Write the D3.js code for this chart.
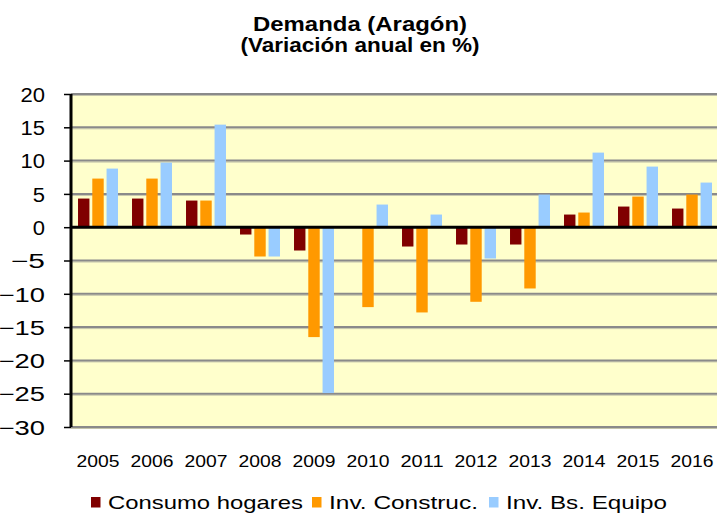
<!DOCTYPE html>
<html><head><meta charset="utf-8">
<script src="https://cdn.jsdelivr.net/npm/d3@7/dist/d3.min.js"></script>
<style>html,body{margin:0;padding:0;background:#fff;}svg{display:block;}text{font-family:"Liberation Sans",Arial,sans-serif;}</style>
</head><body>
<script>
const years = ["2005","2006","2007","2008","2009","2010","2011","2012","2013","2014","2015","2016"];
const seriesNames = ["Consumo hogares","Inv. Construc.","Inv. Bs. Equipo"];
const consumoHogares = [4.3, 4.3, 4.0, -1.1, -3.5, 0.0, -2.9, -2.6, -2.6, 1.9, 3.1, 2.8];
const invConstruc    = [7.3, 7.3, 4.0, -4.4, -16.5, -12.0, -12.8, -11.2, -9.2, 2.2, 4.6, 4.9];
const invBsEquipo    = [8.8, 9.7, 15.4, -4.4, -24.9, 3.4, 1.9, -4.7, 4.9, 11.2, 9.1, 6.7];
const yTicks = [20, 15, 10, 5, 0, -5, -10, -15, -20, -25, -30];
const titleLines = ["Demanda (Aragón)", "(Variación anual en %)"];
const colors = ["#800000", "#FF9900", "#99CCFF"];

const W = 717, H = 514;
const svg = d3.select("body").append("svg").attr("width", W).attr("height", H);

const x0 = 71, x1 = 719, yTop = 94, yBot = 427;
const x = d3.scaleBand().domain(years).range([x0, x1]).paddingInner(0.26).paddingOuter(0.13);
const xs = d3.scaleBand().domain(seriesNames).range([0, x.bandwidth()]).paddingInner(0.2);
const y = d3.scaleLinear().domain([-30, 20]).range([yBot, yTop]);

// plot background
svg.append("rect").attr("x", x0).attr("y", yTop).attr("width", W - x0).attr("height", yBot - yTop).attr("fill", "#FFFFCC");

// gridlines
const grid = svg.append("g");
yTicks.filter(d => d !== 0).forEach(d => {
  grid.append("line").attr("x1", x0).attr("x2", W).attr("y1", y(d) + 1.5).attr("y2", y(d) + 1.5)
    .attr("stroke", "#c4c4ac").attr("stroke-width", 1);
  grid.append("line").attr("x1", x0).attr("x2", W).attr("y1", y(d)).attr("y2", y(d))
    .attr("stroke", "#8a8a8a").attr("stroke-width", 2);
});

// bars
const data = years.map((yr, i) => ({year: yr, vals: [consumoHogares[i], invConstruc[i], invBsEquipo[i]]}));
const groups = svg.append("g").selectAll("g").data(data).join("g")
  .attr("transform", d => `translate(${x(d.year)},0)`);
groups.selectAll("rect").data(d => d.vals.map((v, j) => ({v, s: seriesNames[j], c: colors[j]})))
  .join("rect")
  .attr("x", d => xs(d.s))
  .attr("width", xs.bandwidth())
  .attr("y", d => y(Math.max(0, d.v)))
  .attr("height", d => Math.abs(y(d.v) - y(0)))
  .attr("fill", d => d.c);

// zero line
svg.append("line").attr("x1", x0).attr("x2", W).attr("y1", y(0)).attr("y2", y(0))
  .attr("stroke", "#000").attr("stroke-width", 3);

// y axis
const yAxis = d3.axisLeft(y).tickValues(yTicks).tickSize(7).tickPadding(19).tickFormat(d3.format("d"));
const ga = svg.append("g").attr("transform", `translate(${x0},0)`).call(yAxis);
ga.select(".domain").attr("stroke", "#000").attr("stroke-width", 3).attr("d", `M0,${yTop}V${yBot}`);
ga.selectAll(".tick line").attr("stroke", "#000").attr("stroke-width", 1.5);
ga.selectAll(".tick text").attr("font-size", 20).attr("fill", "#000").attr("dy", "0.36em")
  .style("font-family", '"Liberation Sans", Arial, sans-serif')
  .each(function(d) {
    const n = this.getComputedTextLength();
    d3.select(this).attr("textLength", n * 1.1 + (d < 0 ? 9 : 0)).attr("lengthAdjust", "spacingAndGlyphs");
  });

// x labels
svg.append("g").selectAll("text").data(years).join("text")
  .attr("x", d => x(d) + x.bandwidth() / 2)
  .attr("y", 467)
  .attr("text-anchor", "middle")
  .attr("font-size", 16.5)
  .attr("textLength", 43).attr("lengthAdjust", "spacingAndGlyphs")
  .text(d => d);

// title
svg.append("g").selectAll("text").data(titleLines).join("text")
  .attr("x", 360)
  .attr("y", (d, i) => i === 0 ? 31 : 52)
  .attr("text-anchor", "middle")
  .attr("font-size", 19.5).attr("font-weight", "bold")
  .attr("textLength", (d, i) => i === 0 ? 214 : 239).attr("lengthAdjust", "spacingAndGlyphs")
  .text(d => d);

// legend
const legX = [91, 312, 489];
const legLen = [195, 149, 161];
const leg = svg.append("g").selectAll("g").data(seriesNames).join("g");
leg.append("rect").attr("x", (d, i) => legX[i]).attr("y", 497).attr("width", 9.5).attr("height", 10.5)
  .attr("fill", (d, i) => colors[i]);
leg.append("text").attr("x", (d, i) => legX[i] + 17).attr("y", 509)
  .attr("font-size", 17.7)
  .attr("textLength", (d, i) => legLen[i]).attr("lengthAdjust", "spacingAndGlyphs")
  .text(d => d);
</script>
</body></html>
